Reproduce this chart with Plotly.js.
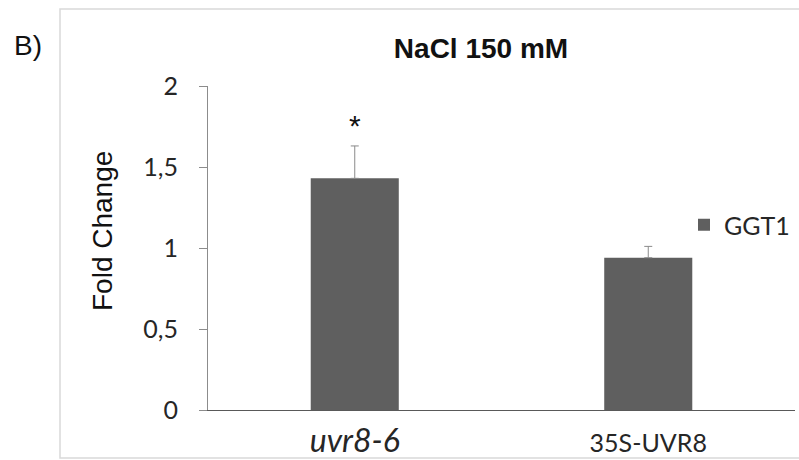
<!DOCTYPE html>
<html>
<head>
<meta charset="utf-8">
<script src="https://cdn.plot.ly/plotly-3.0.1.min.js"></script>
<style>html,body{margin:0;padding:0;background:#fff;}#chart{width:799px;height:460px;}</style>
</head>
<body>
<div id="chart"></div>
<script>
const categories = ['uvr8-6', '35S-UVR8'];
const foldChange = [1.43, 0.94];
const errors = [0.20, 0.07];
const seriesName = 'GGT1';
const yTickVals = [0, 0.5, 1, 1.5, 2];
const yTickText = ['0', '0,5', '1', '1,5', '2'];
const significance = ['*', ''];

const W = 799, H = 460;
const L = 208, R = 4, T = 86, B = 50;
const pw = W - L - R, ph = H - T - B;
const px = v => (v - L) / pw;
const py = v => (H - B - v) / ph;

const tickText = categories.map((c, i) => i === 0
  ? '<i><span style="font-size:32px">' + c + '</span></i>'
  : c);

const trace = {
  type: 'bar',
  x: categories,
  y: foldChange,
  name: seriesName,
  width: 0.3,
  marker: {color: '#5f5f5f'},
  error_y: {type: 'data', symmetric: false, array: errors, arrayminus: errors.map(() => 0),
            visible: true, color: '#8a8a8a', thickness: 1, width: 4},
  showlegend: true
};

const annotations = [{
  xref: 'paper', yref: 'paper', x: px(12), y: py(45), xanchor: 'left', yanchor: 'middle',
  text: 'B)', showarrow: false, font: {family: 'Liberation Sans, Arial', size: 28, color: '#111'}
}, {
  xref: 'paper', yref: 'paper', x: px(102), y: py(231), xanchor: 'center', yanchor: 'middle',
  text: 'Fold Change', textangle: -90, showarrow: false,
  font: {family: 'Liberation Sans, Arial', size: 28, color: '#111'}
}];
categories.forEach((c, i) => {
  if (significance[i]) {
    annotations.push({
      x: c, y: foldChange[i] + errors[i], xref: 'x', yref: 'y', yshift: 20,
      text: significance[i], showarrow: false, yanchor: 'middle',
      font: {family: 'Liberation Sans, Arial', size: 30, color: '#111'}
    });
  }
});

const layout = {
  width: W, height: H,
  margin: {l: L, r: R, t: T, b: B, pad: 0, autoexpand: false},
  paper_bgcolor: '#fff', plot_bgcolor: '#fff',
  title: {
    text: '<b>NaCl 150 mM</b>', xref: 'paper', x: px(481), xanchor: 'center',
    yref: 'container', y: 1 - 48 / H, yanchor: 'middle',
    font: {family: 'Liberation Sans, Arial', size: 28, color: '#111'}
  },
  xaxis: {
    type: 'category', tickvals: categories, ticktext: tickText,
    showline: true, linecolor: '#595959', linewidth: 1.2,
    ticks: '', showgrid: false, zeroline: false,
    tickfont: {family: 'Lato, Open Sans', size: 25, color: '#262626'},
    ticklabelstandoff: 11
  },
  yaxis: {
    range: [0, 2], tickvals: yTickVals, ticktext: yTickText,
    showline: true, linecolor: '#8c8c8c', linewidth: 1,
    ticks: 'outside', ticklen: 8, tickcolor: '#8c8c8c', tickwidth: 1,
    showgrid: false, zeroline: false,
    tickfont: {family: 'Lato, Open Sans', size: 25, color: '#262626'},
    ticklabelstandoff: 16
  },
  legend: {
    x: px(684), y: py(225), xanchor: 'left', yanchor: 'middle',
    bgcolor: 'rgba(0,0,0,0)', borderwidth: 0,
    font: {family: 'Lato, Open Sans', size: 25, color: '#262626'}
  },
  shapes: [{
    type: 'rect', xref: 'paper', yref: 'paper', layer: 'below',
    x0: px(60), x1: px(830), y0: py(458), y1: py(9),
    line: {color: '#d9d9d9', width: 1.5}
  }],
  annotations: annotations,
  bargap: 0.7
};

Plotly.newPlot('chart', [trace], layout, {displayModeBar: false, staticPlot: true});
</script>
</body>
</html>
